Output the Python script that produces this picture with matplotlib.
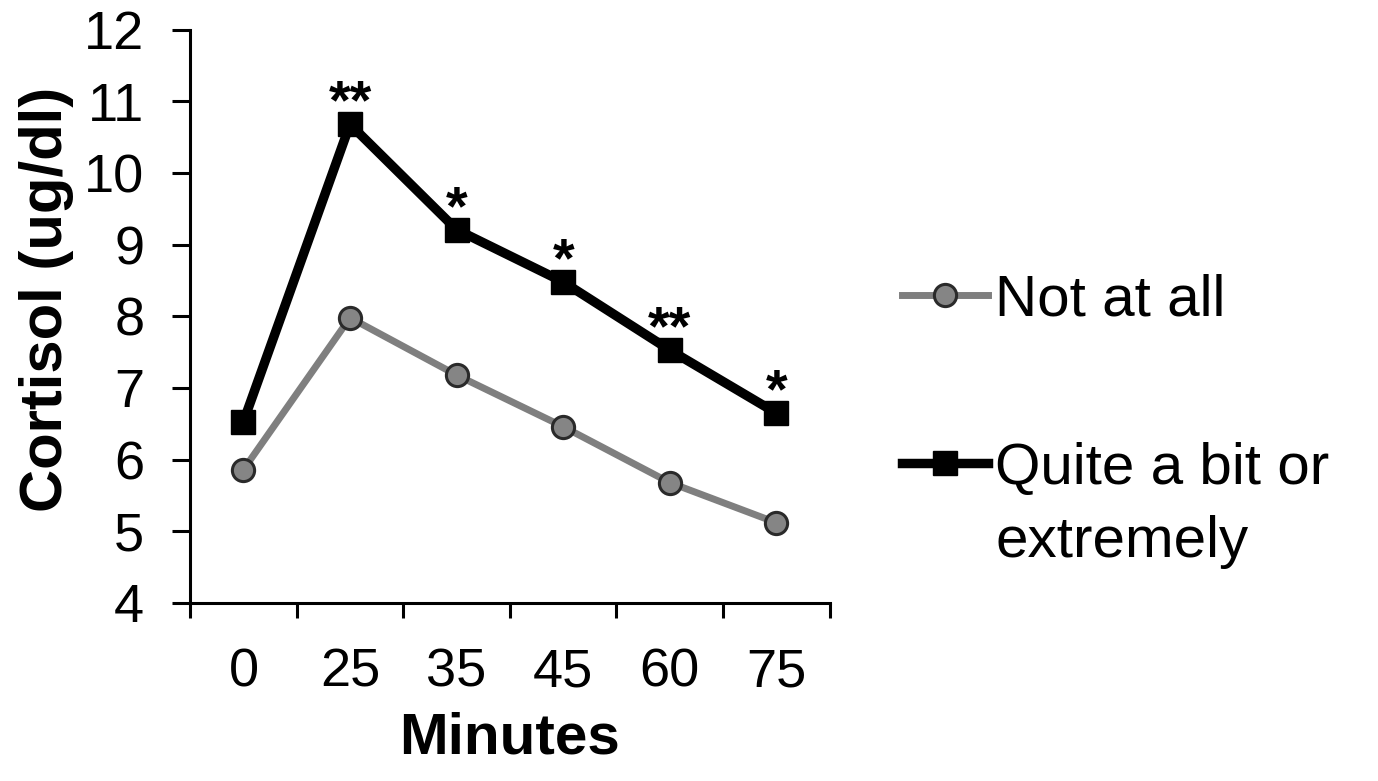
import matplotlib
matplotlib.use("Agg")
import matplotlib.pyplot as plt
from matplotlib.text import Annotation

# values
minutes = ["0", "25", "35", "45", "60", "75"]
not_at_all = [5.86, 7.98, 7.18, 6.46, 5.68, 5.12]
quite_a_bit = [6.53, 10.68, 9.21, 8.48, 7.53, 6.65]
stars = ["", "**", "*", "*", "**", "*"]

plt.rcParams['font.family'] = ['Liberation Sans', 'DejaVu Sans']

fig = plt.figure(figsize=(13.78, 7.81), dpi=100)
ax = fig.add_axes([0.138, 0.228, 0.464, 0.734])

x = list(range(len(minutes)))
ax.plot(x, not_at_all, color='#7f7f7f', lw=5, marker='o', markersize=16,
        markerfacecolor='#858585', markeredgecolor='#2a2a2a', markeredgewidth=2.2,
        label='Not at all', zorder=3)
ax.plot(x, quite_a_bit, color='black', lw=6.8, marker='s', markersize=17,
        markerfacecolor='black', markeredgecolor='black',
        label='Quite a bit or', zorder=4)

# significance stars above the black series
for xi, yi, s in zip(x, quite_a_bit, stars):
    if s:
        ax.annotate(s, (xi, yi), xytext=(0, 4), textcoords='offset points',
                    ha='center', va='baseline', fontsize=40, fontweight='bold')

ax.set_xlim(-0.5, len(minutes) - 0.5)
ax.set_ylim(4, 12)
ax.set_yticks(range(4, 13))
ax.set_xticks(x)
ax.set_xticklabels(minutes)
ax.set_xticks([i - 0.5 for i in range(len(minutes) + 1)], minor=True)
ax.tick_params(axis='x', which='major', length=0, pad=32, labelsize=39)
ax.tick_params(axis='x', which='minor', length=11, width=2.2, direction='out')
ax.tick_params(axis='y', length=13, width=2.2, direction='out', labelsize=39, pad=20)

for side in ['top', 'right']:
    ax.spines[side].set_visible(False)
for side in ['left', 'bottom']:
    ax.spines[side].set_linewidth(2.2)

ax.set_ylabel('Cortisol (ug/dl)', fontsize=43, fontweight='bold')
ax.yaxis.set_label_coords(-0.182, 0.53)
ax.set_xlabel('Minutes', fontsize=42, fontweight='bold')
ax.xaxis.set_label_coords(0.5, -0.19)

leg = fig.legend(loc='upper left', bbox_to_anchor=(0.6546, 0.650),
                 bbox_transform=fig.transFigure, frameon=False,
                 fontsize=42, handlelength=1.48, handletextpad=0.12,
                 labelspacing=1.96, borderpad=0, borderaxespad=0)
# second line of the second legend label, kept under its first line
extra = Annotation('extremely', xy=(0, 0), xycoords=leg.get_texts()[1],
                   xytext=(0, -53), textcoords='offset points',
                   ha='left', va='bottom', fontsize=42)
extra.set_zorder(leg.get_zorder() + 1)
fig.add_artist(extra)

fig.savefig('out.png', dpi=100)
